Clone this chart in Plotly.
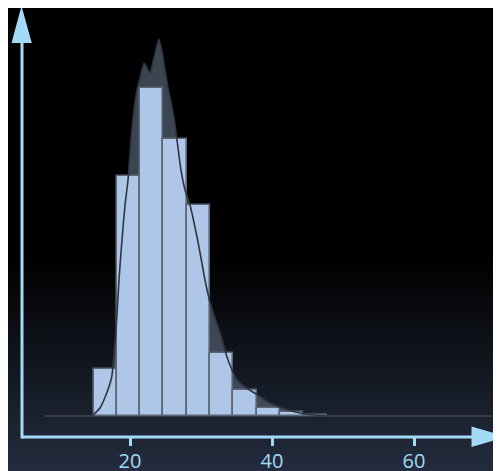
import base64
import plotly.graph_objects as go

# ---- data ----
bin_start = 14.86
bin_width = 3.283
bin_counts = [47, 240, 328, 277, 211, 63, 26, 8, 4, 1]

kde_x = [14.65, 15.77, 16.72, 17.42, 18.03, 18.45, 18.87, 19.30, 19.72, 20.14,
         20.56, 20.99, 21.41, 21.97, 22.39, 22.82, 23.38, 24.08, 24.51, 24.93,
         25.35, 25.77, 26.20, 26.62, 27.18, 27.75, 28.45, 29.44, 30.00, 30.56,
         31.27, 31.97, 32.68, 33.66, 34.37, 35.07, 36.20, 37.32, 38.59, 39.72,
         41.83, 43.94, 46.06, 47.89]
kde_y = [0, 8, 23, 39, 86, 136, 176, 211, 236, 276,
         306, 326, 338, 353, 348, 343, 358, 377, 364, 346,
         328, 314, 298, 276, 246, 226, 211, 179, 158, 136,
         114, 98, 83, 59, 46, 36, 29, 24, 18, 13,
         7, 3, 1, 0]

baseline_x = [8.0, 71.0]
tick_vals = [20, 40, 60]
tick_text = ["20", "40", "60"]

# ---- layout geometry (page is offset by the 8px body margin) ----
OFF = 8
W, H = 501, 471
ML, MR, MT, MB = 14, 0, 0, 42
PW, PH = W - ML - MR, H - MT - MB
x_range = [4.789, 73.38]
y_range = [-21, 408]

AXIS = "#a3daf6"
BAR = "#aec7e8"
BAR_EDGE = "#5c6574"
AREA = "rgba(72,83,99,0.82)"
LINE = "#2f3540"

bin_centers = [bin_start + bin_width * (i + 0.5) for i in range(len(bin_counts))]

fig = go.Figure()

fig.add_trace(go.Scatter(x=kde_x, y=kde_y, mode="lines", fill="tozeroy",
                         fillcolor=AREA,
                         line=dict(width=0, color=AREA, shape="spline", smoothing=0.5),
                         hoverinfo="skip", showlegend=False,
                         xaxis="x", yaxis="y"))
fig.add_trace(go.Bar(x=bin_centers, y=bin_counts, width=bin_width,
                     marker=dict(color=BAR, line=dict(color=BAR_EDGE, width=1.6)),
                     showlegend=False, xaxis="x2", yaxis="y2"))
fig.add_trace(go.Scatter(x=kde_x, y=kde_y, mode="lines",
                         line=dict(color=LINE, width=1.6, shape="spline", smoothing=0.5),
                         showlegend=False, xaxis="x2", yaxis="y2"))


def px(p):
    return (p - OFF - ML) / PW


def py(p):
    return (H - MB - (p - OFF)) / PH


svg = ('<svg xmlns="http://www.w3.org/2000/svg" width="10" height="100" preserveAspectRatio="none">'
       '<defs><linearGradient id="g" x1="0" y1="0" x2="0" y2="1">'
       '<stop offset="0" stop-color="#000000"/>'
       '<stop offset="0.53" stop-color="#000000"/>'
       '<stop offset="0.983" stop-color="#232c3e"/>'
       '<stop offset="1" stop-color="#232c3e"/>'
       '</linearGradient></defs><rect width="10" height="100" fill="url(#g)"/></svg>')
src = "data:image/svg+xml;base64," + base64.b64encode(svg.encode()).decode()

shapes = [
    dict(type="line", xref="x", yref="y", x0=baseline_x[0], x1=baseline_x[1], y0=0, y1=0,
         line=dict(color="#3a3b3d", width=2), layer="below"),
    dict(type="line", xref="paper", yref="paper", x0=px(22), x1=px(480), y0=py(437), y1=py(437),
         line=dict(color=AXIS, width=3)),
    dict(type="line", xref="paper", yref="paper", x0=px(22), x1=px(22), y0=py(438.5), y1=py(30),
         line=dict(color=AXIS, width=3)),
    dict(type="path", xref="paper", yref="paper",
         path=f"M {px(471.5)},{py(426.5)} L {px(507)},{py(436.8)} L {px(471.5)},{py(447)} Z",
         fillcolor=AXIS, line=dict(width=0)),
    dict(type="path", xref="paper", yref="paper",
         path=f"M {px(11.5)},{py(43)} L {px(21.5)},{py(6)} L {px(31.8)},{py(43)} Z",
         fillcolor=AXIS, line=dict(width=0)),
]

fig.update_layout(
    width=W, height=H,
    margin=dict(l=ML, r=MR, t=MT, b=MB, pad=0),
    paper_bgcolor="#000000", plot_bgcolor="rgba(0,0,0,0)",
    bargap=0,
    showlegend=False,
    images=[dict(source=src, xref="paper", yref="paper", x=-ML / PW, y=1 + MT / PH,
                 sizex=W / PW, sizey=H / PH, sizing="stretch", layer="below",
                 xanchor="left", yanchor="top")],
    shapes=shapes,
    xaxis=dict(range=x_range, showgrid=False, zeroline=False, showline=False,
               tickvals=tick_vals, ticktext=tick_text, ticks="outside", ticklen=8,
               tickwidth=2.5, tickcolor=AXIS, ticklabelstandoff=-2,
               tickfont=dict(family="Open Sans", size=20, color=AXIS), fixedrange=True),
    yaxis=dict(range=y_range, showgrid=False, zeroline=False, showline=False,
               showticklabels=False, ticks="", fixedrange=True),
    xaxis2=dict(range=x_range, overlaying="x", visible=False, fixedrange=True),
    yaxis2=dict(range=y_range, overlaying="y", visible=False, fixedrange=True),
)

fig.write_html("out.html")
